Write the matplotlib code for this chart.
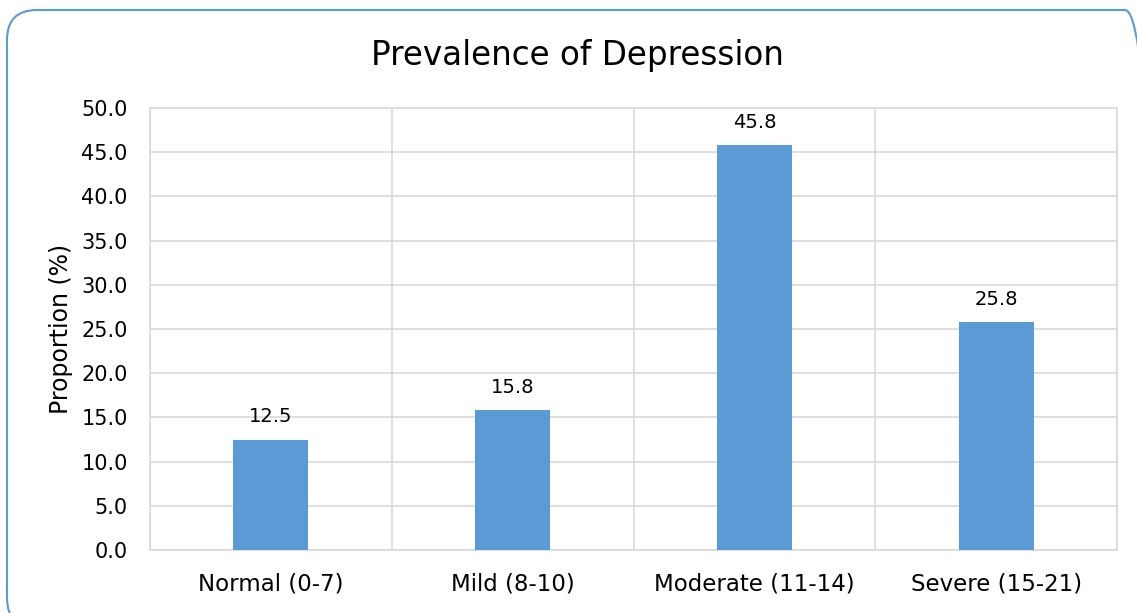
import matplotlib
matplotlib.use("Agg")
import matplotlib.pyplot as plt
from matplotlib.patches import FancyBboxPatch
import matplotlib.transforms as mtransforms
import numpy as np

categories = ["Normal (0-7)", "Mild (8-10)", "Moderate (11-14)", "Severe (15-21)"]
values = [12.5, 15.8, 45.8, 25.8]
yticks = [0, 5, 10, 15, 20, 25, 30, 35, 40, 45, 50]

plt.rcParams['font.family'] = ['DejaVu Sans']

W, H = 1137, 613
fig = plt.figure(figsize=(W/100, H/100), dpi=100)
ax = fig.add_axes([150/W, (H-550)/H, 967/W, 442/H])

# rounded border (pixel coordinates mapped to figure)
pix = mtransforms.Affine2D().scale(1/W, 1/H) + fig.transFigure
border = FancyBboxPatch((7, H-628), 1155-7, 628-10,
                        boxstyle="round,pad=0,rounding_size=30",
                        transform=pix, fill=False,
                        edgecolor="#5B9BD5", linewidth=1.5)
fig.patches.append(border)

x = np.arange(len(categories))
ax.bar(x, values, width=0.31, color="#5B9BD5", zorder=3)
for xi, v in zip(x, values):
    ax.text(xi, v + 1.5, f"{v:.1f}", ha="center", va="bottom", fontsize=14)

ax.set_xlim(-0.5, len(categories) - 0.5)
ax.set_ylim(0, 50)
ax.set_yticks(yticks)
ax.set_yticklabels([f"{t:.1f}" for t in yticks], fontsize=15)
ax.set_xticks(x)
ax.set_xticklabels(categories, fontsize=16.5)
ax.set_xticks(np.arange(len(categories) + 1) - 0.5, minor=True)
ax.tick_params(axis="both", which="both", length=0)
ax.tick_params(axis="x", pad=16)
ax.tick_params(axis="y", pad=16)
ax.yaxis.grid(True, color="#d9d9d9", linewidth=1.2, zorder=0)
ax.xaxis.grid(True, which="minor", color="#d9d9d9", linewidth=1.2, zorder=0)
for s in ax.spines.values():
    s.set_color("#d9d9d9")
    s.set_linewidth(1.2)
ax.set_ylabel("Proportion (%)", fontsize=17, labelpad=6)

fig.text(577/W, 1 - 55/H, "Prevalence of Depression", ha="center", va="center", fontsize=23.5)

fig.savefig("out.png", dpi=100)
